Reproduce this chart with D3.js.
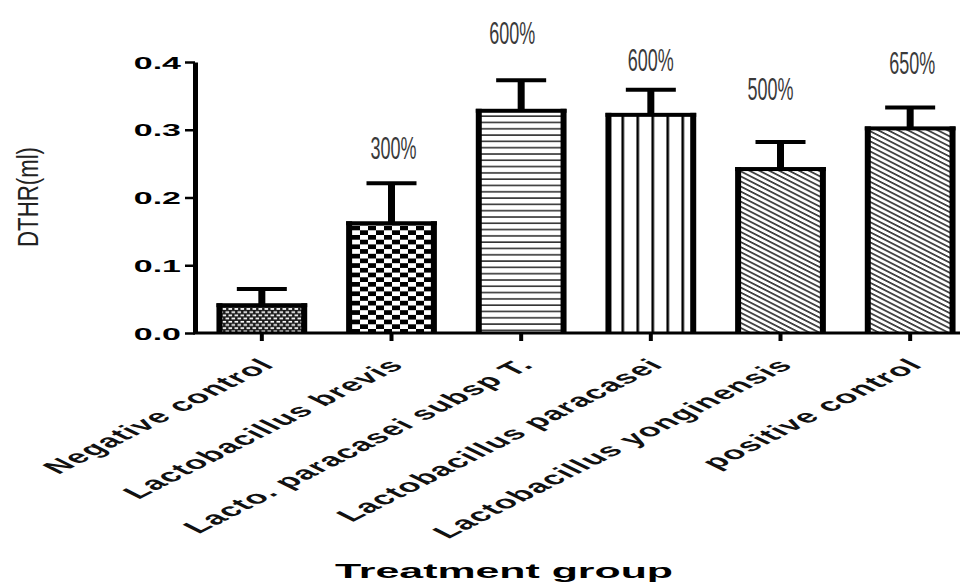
<!DOCTYPE html>
<html lang="en">
<head>
  <meta charset="UTF-8">
  <title>DTHR by treatment group</title>
  <style>
    body { margin: 0; padding: 0; background: #fff; }
    svg { display: block; }
    text { font-family: "Liberation Sans", Arial, sans-serif; }
  </style>
</head>
<body>
  <svg id="chart" width="965" height="583"></svg>

  <script src="https://d3js.org/d3.v7.min.js"></script>
  <script>
    // chart data
    const categories = [
      "Negative control",
      "Lactobacillus brevis",
      "Lacto. paracasei subsp T.",
      "Lactobacillus paracasei",
      "Lactobacillus yonginensis",
      "positive control"
    ];
    const means = [0.041, 0.162, 0.328, 0.322, 0.242, 0.302];
    const errors = [0.024, 0.059, 0.045, 0.037, 0.040, 0.031];
    const pctLabels = [null, "300%", "600%", "600%", "500%", "650%"];
    const pctLabelLevel = [null, 0.273, 0.443, 0.403, 0.360, 0.399];
    const yTicks = [0, 0.1, 0.2, 0.3, 0.4];

    // layout bits
    const pctShift = [0, 2, -9, 0, -10, 2];
    const fills = ["pBrickSmall", "pChecker", "pHoriz", "pVert", "pDiag", "pDiag"];

    const svg = d3.select("#chart");
    const baseY = 333;

    const x = d3.scaleBand()
      .domain(categories)
      .range([197, 975])
      .paddingInner(0.3)
      .paddingOuter(0.15);

    const y = d3.scaleLinear()
      .domain([0, 0.4])
      .range([baseY, 62]);

    // patterns
    const defs = svg.append("defs");

    const brick = defs.append("pattern").attr("id", "pBrickSmall")
      .attr("patternUnits", "userSpaceOnUse").attr("width", 6).attr("height", 6.4);
    brick.append("rect").attr("width", 6).attr("height", 6.4).attr("fill", "#1a1a1a");
    [[0.5, 0.9], [3.5, 4.1], [-2.5, 4.1]].forEach(([px, py]) => {
      brick.append("rect").attr("x", px).attr("y", py).attr("width", 3.6).attr("height", 1.7).attr("fill", "#fff");
    });

    const checker = defs.append("pattern").attr("id", "pChecker")
      .attr("patternUnits", "userSpaceOnUse").attr("width", 16).attr("height", 9.4);
    checker.append("rect").attr("width", 16).attr("height", 9.4).attr("fill", "#fff");
    checker.append("rect").attr("x", 0).attr("y", 0).attr("width", 8).attr("height", 4.7).attr("fill", "#000");
    checker.append("rect").attr("x", 8).attr("y", 4.7).attr("width", 8).attr("height", 4.7).attr("fill", "#000");

    const horiz = defs.append("pattern").attr("id", "pHoriz")
      .attr("patternUnits", "userSpaceOnUse").attr("width", 10).attr("height", 6.3);
    horiz.append("rect").attr("width", 10).attr("height", 6.3).attr("fill", "#fff");
    horiz.append("rect").attr("y", 2).attr("width", 10).attr("height", 1.6).attr("fill", "#333");

    const vert = defs.append("pattern").attr("id", "pVert")
      .attr("patternUnits", "userSpaceOnUse").attr("width", 15).attr("height", 10)
      .attr("x", x(categories[3]) + 1);
    vert.append("rect").attr("width", 15).attr("height", 10).attr("fill", "#fff");
    vert.append("rect").attr("x", 0).attr("width", 2.6).attr("height", 10).attr("fill", "#000");

    const diag = defs.append("pattern").attr("id", "pDiag")
      .attr("patternUnits", "userSpaceOnUse").attr("width", 10).attr("height", 4.5)
      .attr("patternTransform", "rotate(27)");
    diag.append("rect").attr("width", 10).attr("height", 4.5).attr("fill", "#fff");
    diag.append("rect").attr("width", 10).attr("height", 1.7).attr("fill", "#3a3a3a");

    // bars
    const sideW = 6, topW = 4;
    const bw = x.bandwidth();
    const bars = svg.append("g").selectAll("g")
      .data(categories)
      .join("g");

    bars.append("rect")
      .attr("x", d => x(d) + sideW / 2)
      .attr("y", (d, i) => y(means[i]))
      .attr("width", bw - sideW)
      .attr("height", (d, i) => baseY - y(means[i]))
      .attr("fill", (d, i) => `url(#${fills[i]})`);

    // thick outline: heavy sides, lighter top
    bars.append("rect")
      .attr("x", d => x(d))
      .attr("y", (d, i) => y(means[i]) - topW / 2)
      .attr("width", sideW)
      .attr("height", (d, i) => baseY - y(means[i]) + topW / 2);
    bars.append("rect")
      .attr("x", d => x(d) + bw - sideW)
      .attr("y", (d, i) => y(means[i]) - topW / 2)
      .attr("width", sideW)
      .attr("height", (d, i) => baseY - y(means[i]) + topW / 2);
    bars.append("rect")
      .attr("x", d => x(d))
      .attr("y", (d, i) => y(means[i]) - topW / 2)
      .attr("width", bw)
      .attr("height", topW);

    // error bars (upper only)
    const cx = d => x(d) + bw / 2;
    bars.append("line")
      .attr("x1", cx).attr("x2", cx)
      .attr("y1", (d, i) => y(means[i]))
      .attr("y2", (d, i) => y(means[i] + errors[i]))
      .attr("stroke", "#000").attr("stroke-width", 7);
    bars.append("line")
      .attr("x1", d => cx(d) - 25).attr("x2", d => cx(d) + 25)
      .attr("y1", (d, i) => y(means[i] + errors[i]))
      .attr("y2", (d, i) => y(means[i] + errors[i]))
      .attr("stroke", "#000").attr("stroke-width", 4);

    // percent annotations
    bars.filter((d, i) => pctLabels[i])
      .append("text")
      .attr("x", d => cx(d) + pctShift[categories.indexOf(d)])
      .attr("y", d => y(pctLabelLevel[categories.indexOf(d)]) + 11)
      .attr("text-anchor", "middle")
      .attr("font-size", 31)
      .attr("fill", "#3a3a3a")
      .attr("textLength", 46)
      .attr("lengthAdjust", "spacingAndGlyphs")
      .text(d => pctLabels[categories.indexOf(d)]);

    // y axis
    const yAxis = svg.append("g")
      .attr("transform", "translate(195,0)")
      .call(d3.axisLeft(y).tickValues(yTicks).tickFormat(d3.format(".1f")).tickSize(10).tickSizeOuter(0));
    yAxis.select(".domain").attr("stroke-width", 5);
    yAxis.selectAll(".tick line").attr("stroke-width", 2.5);
    yAxis.selectAll(".tick text")
      .attr("x", null).attr("dy", null)
      .attr("transform", "translate(-14,6) scale(2,1)")
      .attr("font-size", 17)
      .attr("font-weight", "bold")
      .attr("fill", "#000");

    // x axis
    const xAxis = svg.append("g")
      .attr("transform", `translate(0,${baseY})`)
      .call(d3.axisBottom(x).tickSize(8).tickSizeOuter(0));
    xAxis.select(".domain").remove();
    xAxis.append("line")
      .attr("x1", 193).attr("x2", 960)
      .attr("stroke", "#000").attr("stroke-width", 3);
    xAxis.selectAll(".tick line").attr("stroke-width", 4);
    xAxis.selectAll(".tick text")
      .attr("y", null).attr("dy", null)
      .attr("text-anchor", "end")
      .attr("transform", "translate(14,33) scale(2,1) rotate(-45)")
      .attr("font-size", 18)
      .attr("letter-spacing", 0.8)
      .attr("font-weight", "bold")
      .attr("fill", "#111");

    // axis titles
    svg.append("text")
      .attr("transform", "translate(38,197) rotate(-90)")
      .attr("text-anchor", "middle")
      .attr("font-size", 29)
      .attr("fill", "#222")
      .attr("textLength", 100)
      .attr("lengthAdjust", "spacingAndGlyphs")
      .text("DTHR(ml)");

    svg.append("text")
      .attr("transform", "translate(504,578) scale(2,1)")
      .attr("text-anchor", "middle")
      .attr("font-size", 21)
      .attr("font-weight", "bold")
      .attr("textLength", 169)
      .attr("lengthAdjust", "spacingAndGlyphs")
      .text("Treatment group");
  </script>
</body>
</html>
